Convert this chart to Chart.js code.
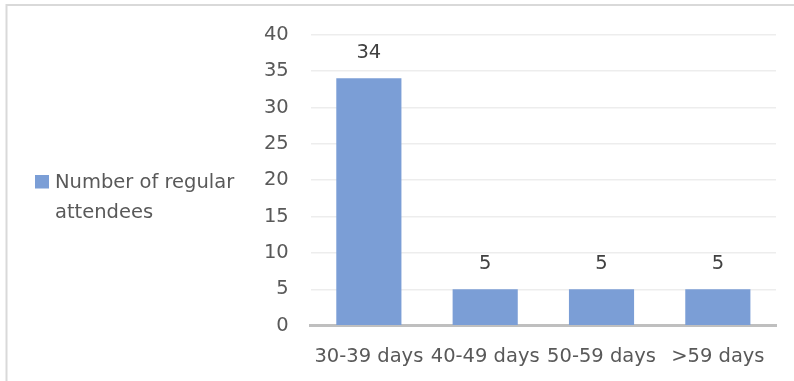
<!DOCTYPE html>
<html>
<head>
<meta charset="utf-8">
<script src="https://cdn.jsdelivr.net/npm/chart.js@4/dist/chart.umd.min.js"></script>
<style>
  html, body { margin: 0; padding: 0; background: #ffffff; }
  #wrap { position: relative; width: 794px; height: 381px; }
</style>
</head>
<body>
<div id="wrap"><canvas id="chart" width="794" height="381"></canvas></div>
<script>
// Attendance grouped by number of days
const categories = ['30-39 days', '40-49 days', '50-59 days', '>59 days'];
const attendees = [34, 5, 5, 5];
const seriesName = 'Number of regular attendees';
const legendLines = ['Number of regular', 'attendees'];
const yTicks = [0, 5, 10, 15, 20, 25, 30, 35, 40];

const FONT = 'DejaVu Sans';
const FONT_SIZE = 19.5;
const BAR_COLOR = '#7b9ed6';

// Frame lines along the top and left edges of the chart box
const framePlugin = {
  id: 'frame',
  beforeDraw(chart) {
    const ctx = chart.ctx;
    ctx.save();
    ctx.strokeStyle = '#d9d9d9';
    ctx.lineWidth = 2;
    ctx.beginPath();
    ctx.moveTo(6.5, 381);
    ctx.lineTo(6.5, 5);
    ctx.lineTo(794, 5);
    ctx.stroke();
    ctx.restore();
  }
};

// Value written above each bar
const valueLabels = {
  id: 'valueLabels',
  afterDatasetsDraw(chart) {
    const ctx = chart.ctx;
    const meta = chart.getDatasetMeta(0);
    const data = chart.data.datasets[0].data;
    ctx.save();
    ctx.font = FONT_SIZE + 'px "' + FONT + '"';
    ctx.fillStyle = '#404040';
    ctx.textAlign = 'center';
    ctx.textBaseline = 'middle';
    meta.data.forEach((bar, i) => {
      ctx.fillText(String(data[i]), bar.x, bar.y - 25);
    });
    ctx.restore();
  }
};

// Legend on the left with a wrapped series name
const sideLegend = {
  id: 'sideLegend',
  afterDraw(chart) {
    const ctx = chart.ctx;
    const ds = chart.data.datasets[0];
    ctx.save();
    ctx.fillStyle = ds.backgroundColor;
    ctx.fillRect(35, 175, 14, 13.5);
    ctx.font = FONT_SIZE + 'px "' + FONT + '"';
    ctx.fillStyle = '#595959';
    ctx.textAlign = 'left';
    ctx.textBaseline = 'middle';
    legendLines.forEach((line, i) => {
      ctx.fillText(line, 55, 182.5 + i * 30);
    });
    ctx.restore();
  }
};

new Chart(document.getElementById('chart'), {
  type: 'bar',
  data: {
    labels: categories,
    datasets: [{
      label: seriesName,
      data: attendees,
      backgroundColor: BAR_COLOR,
      borderWidth: 0,
      categoryPercentage: 1.0,
      barPercentage: 0.56
    }]
  },
  options: {
    responsive: false,
    animation: false,
    devicePixelRatio: 1,
    layout: { padding: { top: 34.7, right: 18, bottom: 0, left: 0 } },
    plugins: {
      legend: { display: false },
      tooltip: { enabled: false },
      title: { display: false }
    },
    scales: {
      x: {
        grid: { display: false, drawTicks: false },
        border: { display: true, color: '#bfbfbf', width: 3 },
        ticks: {
          color: '#595959',
          font: { family: FONT, size: FONT_SIZE },
          padding: 20,
          maxRotation: 0,
          autoSkip: false
        },
        afterFit(scale) { scale.height = 55.3; }
      },
      y: {
        min: 0,
        max: 40,
        afterBuildTicks(scale) { scale.ticks = yTicks.map(v => ({ value: v })); },
        grid: { color: '#ededed', lineWidth: 1.5, drawTicks: false },
        border: { display: false },
        ticks: {
          color: '#595959',
          font: { family: FONT, size: FONT_SIZE },
          padding: 22
        },
        afterFit(scale) { scale.width = 310.7; }
      }
    }
  },
  plugins: [framePlugin, valueLabels, sideLegend]
});
</script>
</body>
</html>
